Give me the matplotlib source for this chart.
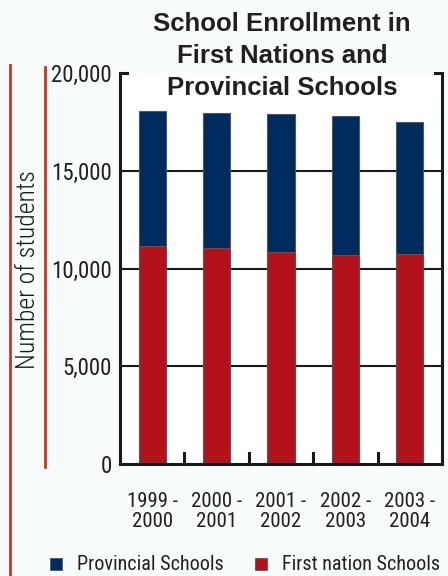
import matplotlib
matplotlib.use("Agg")
import matplotlib.pyplot as plt
from matplotlib.lines import Line2D
from matplotlib.patches import Rectangle

years = ["1999 -\n2000", "2000 -\n2001", "2001 -\n2002", "2002 -\n2003", "2003 -\n2004"]
first_nation = [11170, 11060, 10860, 10710, 10720]
provincial = [6890, 6880, 7030, 7110, 6760]
y_ticks = [0, 5000, 10000, 15000, 20000]
y_tick_labels = ["0", "5,000", "10,000", "15,000", "20,000"]

NAVY = "#002b5e"
RED = "#b3121c"
BG = "#f8fbfb"
LINE_RED = "#c0392b"
INK = "#231f20"
NARROW = ["Roboto Condensed", "DejaVu Sans"]

W, H = 448, 576
fig = plt.figure(figsize=(W / 100, H / 100), dpi=100, facecolor=BG)
ax = fig.add_axes([120 / W, 1 - 464 / H, 322 / W, (464 - 73) / H])
ax.set_facecolor("white")

x = range(len(years))
ax.bar(x, first_nation, width=0.42, color=RED, edgecolor="#555555", linewidth=0.8, zorder=3)
ax.bar(x, provincial, bottom=first_nation, width=0.42, color=NAVY,
       edgecolor="#555555", linewidth=0.8, zorder=3)

ax.set_xlim(-0.5, len(years) - 0.5)
ax.set_ylim(0, 20000)

# horizontal grid lines behind the bars
for v in y_ticks[1:-1]:
    ax.axhline(v, color="#1a1a1a", linewidth=1.5, zorder=1)

ax.set_yticks(y_ticks)
ax.set_yticklabels(y_tick_labels, fontfamily=NARROW, fontsize=16.5, color=INK)
ax.tick_params(axis="y", length=0, pad=6)

ax.set_xticks(list(x))
ax.set_xticklabels(years, fontfamily=NARROW, fontsize=15, color=INK, linespacing=1.05)
ax.tick_params(axis="x", length=0, pad=20)

# small marks between categories on the baseline
for b in [0.5, 1.5, 2.5, 3.5]:
    ax.plot([b, b], [0, 550], color="#1a1a1a", linewidth=2.2, zorder=4, clip_on=False)

for side in ["left", "right", "bottom"]:
    ax.spines[side].set_color("#1a1a1a")
    ax.spines[side].set_linewidth(2.2)
ax.spines["top"].set_visible(False)
ax.spines["bottom"].set_zorder(5)
# bracket stubs at the top corners
ax.plot([-0.5, -0.39], [20000, 20000], color="#1a1a1a", linewidth=2.2, clip_on=False, zorder=5)
ax.plot([4.39, 4.5], [20000, 20000], color="#1a1a1a", linewidth=2.2, clip_on=False, zorder=5)

# title
fig.text(282 / W, 1 - 56 / H, "School Enrollment in\nFirst Nations and\nProvincial Schools",
         ha="center", va="center", fontsize=18.5, fontweight="bold",
         fontfamily=["Liberation Sans", "DejaVu Sans"], color=INK, linespacing=1.4)

# y-axis label
fig.text(28 / W, 1 - 270 / H, "Number of students", rotation=90, ha="center", va="center",
         fontsize=18.5, fontweight="light", fontfamily=NARROW, color="#1a1a1a")

# red rules on the left
fig.add_artist(Line2D([10 / W, 10 / W], [0, 1 - 65 / H], color=LINE_RED, linewidth=2))
fig.add_artist(Line2D([45 / W, 45 / W], [1 - 467 / H, 1 - 67 / H], color=LINE_RED, linewidth=2))

# legend
leg_y = 564
for sx, col, label in [(50, NAVY, "Provincial Schools"), (255, RED, "First nation Schools")]:
    fig.add_artist(Rectangle((sx / W, 1 - (leg_y + 6) / H), 12 / W, 12 / H,
                             facecolor=col, edgecolor="#555555", linewidth=0.6,
                             transform=fig.transFigure))
    fig.text((sx + 27) / W, 1 - leg_y / H, label, ha="left", va="center",
             fontsize=14.5, fontfamily=NARROW, color=INK)

fig.savefig("out.png", dpi=100, facecolor=BG)
